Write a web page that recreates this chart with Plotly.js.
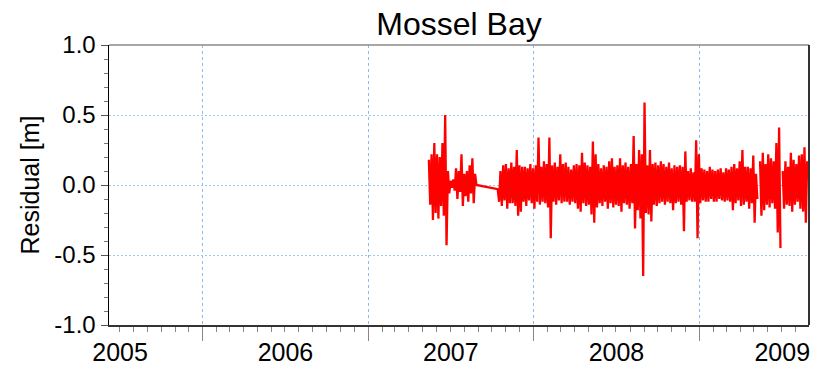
<!DOCTYPE html>
<html>
<head>
<meta charset="utf-8">
<script src="https://cdn.plot.ly/plotly-3.0.1.min.js"></script>
<style>
  html, body { margin: 0; padding: 0; background: #ffffff; }
  #chart { width: 821px; height: 369px; }
</style>
</head>
<body>
<div id="chart"></div>
<script>
const stepDays = 3;
const seg1Start = '2007-05-15';
const seg1Vals = [18, -14, 22, -25, 30, -20, 22, -24, 20, -15, 30, -22, 50, -43, 10, -6, 3, -2,
                  4, -4, 12, -10, 10, -5, 22, -15, 8, -8, 10, -12, 14, -6, 19, -13, 8, 0];
const seg2Start = '2007-10-14';
const seg2Vals = [
  -3, -12, 10, -15, 14, -11, 15, -17, 12, -13,
  16, -13, 13, -15, 25, -22, 14, -19, 13, -12,
  13, -15, 12, -11, 15, -13, 12, -17, 14, -12,
  34, -14, 13, -12, 17, -13, 15, -16, 34, -38,
  14, -12, 16, -14, 13, -11, 22, -13, 15, -12,
  16, -12, 13, -14, 11, -12, 14, -13, 15, -17,
  14, -19, 23, -13, 16, -15, 14, -14, 13, -21,
  31, -27, 22, -16, 15, -13, 12, -15, 14, -12,
  13, -17, 17, -13, 19, -16, 13, -14, 14, -15,
  19, -19, 14, -13, 16, -14, 13, -17, 15, -13,
  35, -31, 15, -18, 25, -24, 22, -65, 59, -20,
  14, -21, 25, -26, 15, -14, 16, -15, 14, -13,
  17, -12, 15, -14, 13, -12, 16, -13, 12, -18,
  14, -13, 13, -12, 14, -14, 13, -33, 24, -12,
  10, -11, 12, -12, 9, -12, 32, -38, 22, -13,
  12, -11, 11, -12, 10, -12, 13, -10, 11, -12,
  10, -12, 11, -10, 12, -11, 9, -12, 12, -11,
  11, -12, 13, -18, 15, -13, 12, -11, 17, -15,
  25, -14, 13, -12, 13, -17, 12, -13, 21, -27,
  8, -10];
const seg3Start = '2009-05-15';
const seg3Vals = [17, -22, 23, -18, 15, -14, 22, -16, 19, -13, 17, -17, 30, -34, 41, -45];
const seg4Start = '2009-07-04';
const seg4Vals = [10, -17, 17, -14, 13, -15, 23, -19, 18, -14, 15, -12, 21, -17, 22, -19, 27, -27, 17];

const yTickVals = [-1.0, -0.5, 0.0, 0.5, 1.0];
const yTickText = ['-1.0', '-0.5', '0.0', '0.5', '1.0'];
const xRange = ['2005-06-08', '2009-08-31'];

function segDates(start, n) {
  const t0 = new Date(start + 'T00:00:00Z').getTime();
  const out = [];
  for (let i = 0; i < n; i++) {
    out.push(new Date(t0 + i * stepDays * 86400000).toISOString().slice(0, 19).replace('T', ' '));
  }
  return out;
}

const xs = [], ys = [];
// segment 1 and 2 are joined by a straight line across the gap (as in the figure)
[[seg1Start, seg1Vals, false], [seg2Start, seg2Vals, true], [seg3Start, seg3Vals, true], [seg4Start, seg4Vals, false]]
  .forEach(([start, vals, gapAfter]) => {
    const d = segDates(start, vals.length);
    vals.forEach((v, i) => { xs.push(d[i]); ys.push(v / 100); });
    if (gapAfter) { xs.push(null); ys.push(null); }
  });

const FONT = 'Liberation Sans, Arial, sans-serif';

const trace = {
  type: 'scatter', mode: 'lines', x: xs, y: ys,
  line: { color: '#ff0000', width: 2.3 },
  connectgaps: false, hoverinfo: 'skip'
};

const layout = {
  width: 821, height: 369,
  margin: { l: 109, r: 12, t: 45, b: 44 },
  paper_bgcolor: '#ffffff', plot_bgcolor: '#ffffff',
  showlegend: false,
  font: { family: FONT, color: '#000000' },
  title: {
    text: 'Mossel Bay', font: { family: FONT, size: 32, color: '#000' },
    x: 0.5, xref: 'paper', xanchor: 'center',
    y: 0.935, yref: 'container', yanchor: 'middle'
  },
  xaxis: {
    type: 'date', range: xRange,
    tick0: '2005-01-01', dtick: 'M12', tickformat: '%Y', ticklabelmode: 'period',
    ticks: 'outside', ticklen: 14, tickwidth: 1, tickcolor: '#888888',
    ticklabelstandoff: -10,
    tickfont: { family: FONT, size: 25, color: '#000' },
    minor: { dtick: 'M1', ticks: 'outside', ticklen: 5, tickwidth: 1, tickcolor: '#888888', showgrid: false },
    showgrid: true, gridcolor: '#8cbcec', griddash: 'dot', gridwidth: 1,
    showline: true, linecolor: '#333333', linewidth: 2,
    zeroline: false, fixedrange: true
  },
  yaxis: {
    range: [-1, 1], tickmode: 'array', tickvals: yTickVals, ticktext: yTickText,
    ticks: 'outside', ticklen: 7, tickwidth: 1, tickcolor: '#555555',
    tickfont: { family: FONT, size: 24, color: '#000' },
    minor: { dtick: 0.1, tick0: 0, ticks: 'outside', ticklen: 4, tickwidth: 1, tickcolor: '#777777', showgrid: false },
    showgrid: true, gridcolor: '#9cc8f4', griddash: '2px,2px', gridwidth: 1,
    showline: true, linecolor: '#000000', linewidth: 1.5,
    zeroline: false, fixedrange: true,
    title: { text: 'Residual [m]', font: { family: FONT, size: 25, color: '#000' }, standoff: 7 }
  },
  shapes: [
    { type: 'line', xref: 'paper', yref: 'paper', x0: 0, x1: 1, y0: 1, y1: 1, line: { color: '#8a8a8a', width: 1.5 }, layer: 'above' },
    { type: 'line', xref: 'paper', yref: 'paper', x0: 1, x1: 1, y0: 0, y1: 1, line: { color: '#333333', width: 2 }, layer: 'above' }
  ]
};

Plotly.newPlot('chart', [trace], layout, { staticPlot: true, displayModeBar: false });
</script>
</body>
</html>
